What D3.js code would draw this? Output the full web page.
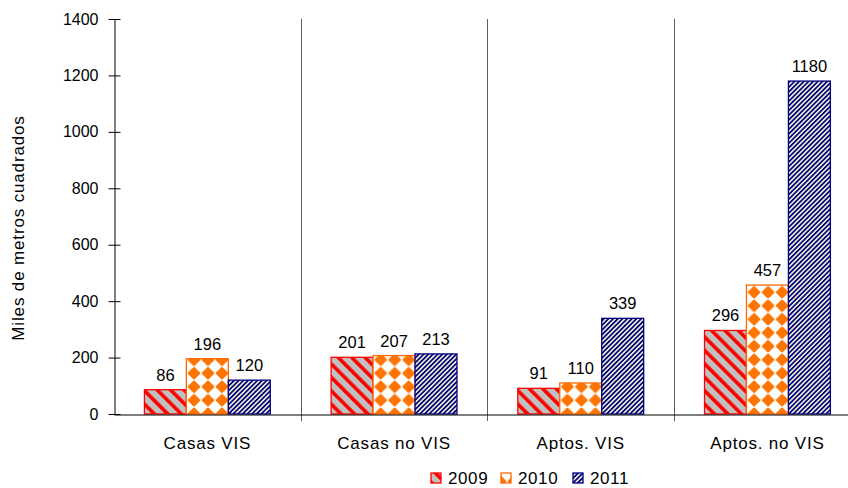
<!DOCTYPE html>
<html><head><meta charset="utf-8">
<script src="https://cdn.jsdelivr.net/npm/d3@7"></script>
<style>body{margin:0;background:#fff}svg{display:block;font-family:"Liberation Sans",Arial,sans-serif}</style>
</head><body><svg id="c" width="848" height="488"></svg>
<script>
const categories = ["Casas VIS", "Casas no VIS", "Aptos. VIS", "Aptos. no VIS"];
const years = ["2009", "2010", "2011"];
const values2009 = [86, 201, 91, 296];
const values2010 = [196, 207, 110, 457];
const values2011 = [120, 213, 339, 1180];
const yTicks = [0, 200, 400, 600, 800, 1000, 1200, 1400];
const axisTitle = "Miles de metros cuadrados";

(function () {
const FONT = '"Liberation Sans",Arial,sans-serif';
const series = [values2009, values2010, values2011];
const svg = d3.select("#c");
const defs = svg.append("defs");

// patterns
const p1 = defs.append("pattern").attr("id","p2009").attr("patternUnits","userSpaceOnUse")
  .attr("width",9.5).attr("height",9.5).attr("patternTransform","rotate(-45)");
p1.append("rect").attr("width",9.5).attr("height",9.5).attr("fill","#c0c0c0");
p1.append("rect").attr("width",3.6).attr("height",9.5).attr("fill","#ff0000");

const p2 = defs.append("pattern").attr("id","p2010").attr("patternUnits","userSpaceOnUse")
  .attr("width",14).attr("height",13.5).attr("x",3).attr("y",2);
p2.append("rect").attr("width",14).attr("height",13.5).attr("fill","#ffffff");
p2.append("path").attr("d","M7,1.4 L12.4,6.75 L7,12.1 L1.6,6.75 Z").attr("fill","#ff7300")
  .attr("stroke","#ff7300").attr("stroke-width",1.8).attr("stroke-linejoin","round");

const p3 = defs.append("pattern").attr("id","p2011").attr("patternUnits","userSpaceOnUse")
  .attr("width",3.3).attr("height",3.3).attr("patternTransform","rotate(45)");
p3.append("rect").attr("width",3.3).attr("height",3.3).attr("fill","#f2f2cc");
p3.append("rect").attr("width",1.7).attr("height",3.3).attr("fill","#000080");

const fills = ["url(#p2009)","url(#p2010)","url(#p2011)"];
const strokes = ["#ff0000","#ff6600","#000080"];

const pLeft = 114, pRight = 860.8, pTop = 19, pBottom = 414;
const x = d3.scaleBand().domain(categories).range([pLeft, pRight]).padding(0);
const xi = d3.scaleBand().domain(years).range([0, x.bandwidth()]).paddingInner(0).paddingOuter(0.725);
const y = d3.scaleLinear().domain([0, 1400]).range([pBottom, pTop]);

// separators between categories
svg.append("g").selectAll("line").data(categories.slice(1)).join("line")
  .attr("x1", d => Math.round(x(d)) + 0.5).attr("x2", d => Math.round(x(d)) + 0.5)
  .attr("y1", pTop).attr("y2", pBottom + 7).attr("stroke", "#606060").attr("stroke-width", 1);

// bars
categories.forEach((c, ci) => {
  const g = svg.append("g").attr("transform", `translate(${x(c)},0)`);
  years.forEach((yr, si) => {
    const v = series[si][ci];
    g.append("rect").attr("x", xi(yr)).attr("y", y(v)).attr("width", xi.bandwidth())
      .attr("height", y(0) - y(v)).attr("fill", fills[si]).attr("stroke", strokes[si]).attr("stroke-width", 1.3);
    g.append("text").attr("x", xi(yr) + xi.bandwidth()/2).attr("y", y(v) - 9)
      .attr("text-anchor","middle").attr("font-size", 16.5).attr("fill","#000").text(v);
  });
});

// y axis
const yAxis = d3.axisLeft(y).tickValues(yTicks).tickFormat(d3.format("d")).tickSize(6).tickSizeOuter(0).tickPadding(10);
const ga = svg.append("g").attr("transform", `translate(${pLeft + 0.5},0)`).call(yAxis);
ga.attr("font-family", FONT);
ga.select(".domain").attr("stroke","#000");
ga.selectAll(".tick line").attr("x1", 6).attr("x2", -6).attr("stroke","#000");
ga.selectAll(".tick text").attr("font-size", 16).attr("fill","#000");

// x axis
const xAxis = d3.axisBottom(x).tickSize(0).tickPadding(0);
const gx = svg.append("g").attr("transform", `translate(0,${pBottom + 0.5})`).call(xAxis);
gx.attr("font-family", FONT);
gx.select(".domain").attr("stroke","#000").attr("stroke-width",1.2);
gx.selectAll(".tick text").attr("y", 34).attr("dy", null).attr("font-size", 17).attr("letter-spacing", "0.8px")
  .attr("fill","#000");

// axis title
svg.append("text").attr("transform", `translate(24,228) rotate(-90)`).attr("text-anchor","middle")
  .attr("font-size", 17).attr("letter-spacing","0.85px").attr("fill","#000").text(axisTitle);

// legend
const legendX = [431, 501, 573];
const lg = svg.append("g");
years.forEach((yr, i) => {
  lg.append("rect").attr("x", legendX[i]).attr("y", 473).attr("width", 10).attr("height", 10)
    .attr("fill", fills[i]).attr("stroke", strokes[i]).attr("stroke-width", 1.3);
  lg.append("text").attr("x", legendX[i] + 17).attr("y", 484).attr("font-size", 17).attr("letter-spacing","0.6px")
    .attr("fill","#000").text(yr);
});
})();
</script></body></html>
